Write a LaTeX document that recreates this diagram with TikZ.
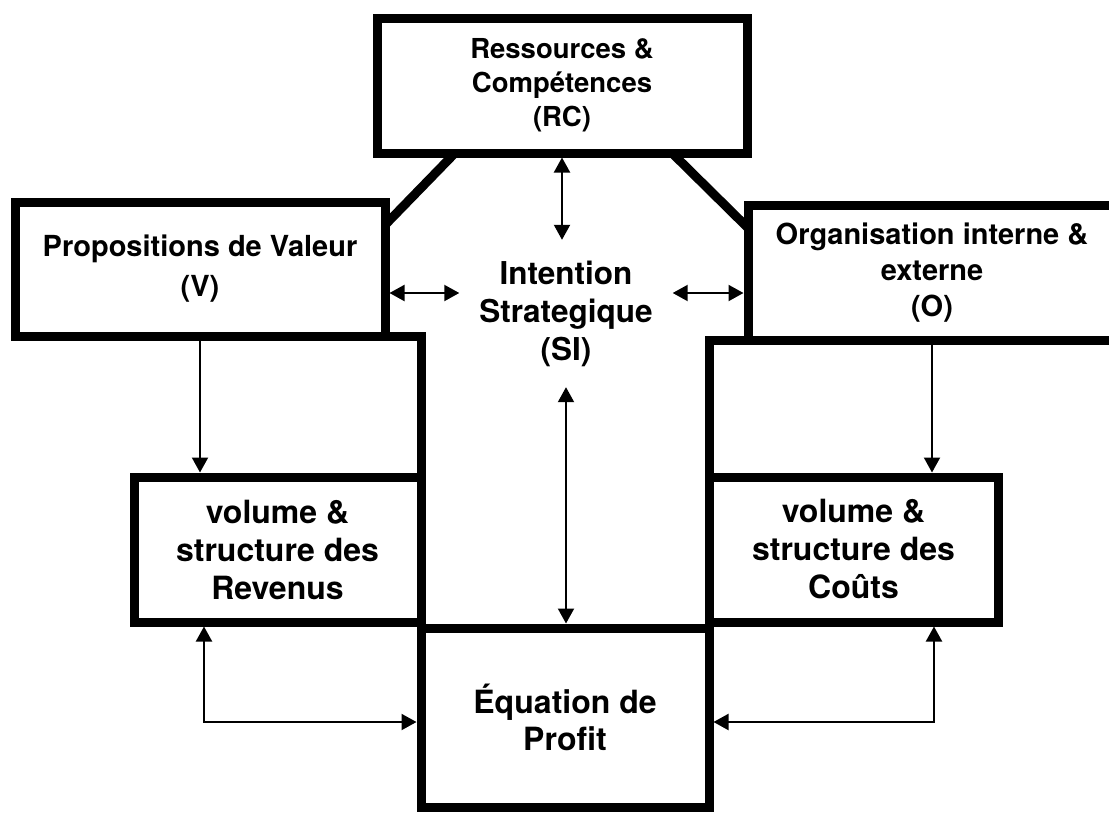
\documentclass[tikz,border=0pt]{standalone}
\usepackage{fontspec}
\setmainfont{TeX Gyre Heros}
\usetikzlibrary{arrows.meta,%
		calc,%
		positioning}

\begin{document}
\begin{tikzpicture}[x=1pt,y=-1pt,
  bloc/.style={draw,line width=9pt,outer sep=0pt,align=center},
  mur/.style={line width=9pt},
  fleche/.style={line width=2pt,-{Triangle[length=15pt,width=16pt]}},
  lien/.style={line width=2pt,{Triangle[length=15pt,width=16pt]}-{Triangle[length=15pt,width=16pt]}},
  debut/.style={shorten <=4.5pt},
  fin/.style={shorten >=4.5pt}]
  \useasboundingbox (0,0) rectangle (1109,812);

  \node[bloc,minimum width=370pt,minimum height=135pt,font=\bfseries\fontsize{27.5}{34}\selectfont] (RC) at (562,85.5) {Ressources \&\\Compétences\\(RC)};
  \node[bloc,minimum width=370pt,minimum height=134pt,font=\bfseries\fontsize{29}{40}\selectfont] (V) at (200,269) {Propositions de Valeur\\(V)};
  \node[bloc,minimum width=368pt,minimum height=135pt,font=\bfseries\fontsize{29}{36}\selectfont] (O) at (932,272.5) {Organisation interne \&\\externe\\(O)};
  \node[align=center,minimum width=213pt,minimum height=147pt,font=\bfseries\fontsize{31.5}{38}\selectfont] (SI) at (566,313.5) {Intention\\Strategique\\(SI)};
  \node[bloc,minimum width=287pt,minimum height=145pt,font=\bfseries\fontsize{32}{38}\selectfont] (Rev) at (277.5,549.5) {volume \&\\structure des\\Revenus};
  \node[bloc,minimum width=289pt,minimum height=145pt,font=\bfseries\fontsize{32}{38}\selectfont] (Cout) at (853.5,549.5) {volume \&\\structure des\\Coûts};
  \node[bloc,minimum width=288pt,minimum height=179pt,font=\bfseries\fontsize{32}{37}\selectfont] (Prof) at (565,717.5) {Équation de\\Profit};

  \coordinate (siG) at ([yshift=20.5pt]SI.west);
  \coordinate (siD) at ([yshift=20.5pt]SI.east);

  % contour SI
  \draw[mur] ([xshift=78pt]RC.south west) -- ([yshift=-23pt]V.north east);
  \draw[mur] ([xshift=-75pt]RC.south east) -- ([yshift=-23pt]O.north west);
  \draw[mur] (V.south east) -| (Rev.north east);
  \draw[mur] (O.south west) -| (Cout.north west);

  % fleches
  \draw[lien,debut] (RC.south) -- (RC.south |- SI.north);
  \draw[lien,fin] (siG) -- (V.east |- siG);
  \draw[lien,fin] (siD) -- (O.west |- siD);
  \draw[lien,fin] (SI.south) -- (SI.south |- Prof.north);
  \draw[fleche,debut,fin] (V.south) -- (V.south |- Rev.north);
  \draw[fleche,debut,fin] (O.south) -- (O.south |- Cout.north);
  \draw[lien,debut,fin] ([xshift=70pt]Rev.south west) |- ([yshift=-4.5pt]Prof.west);
  \draw[lien,debut,fin] ([xshift=-64pt]Cout.south east) |- ([yshift=-4.5pt]Prof.east);
\end{tikzpicture}
\end{document}
